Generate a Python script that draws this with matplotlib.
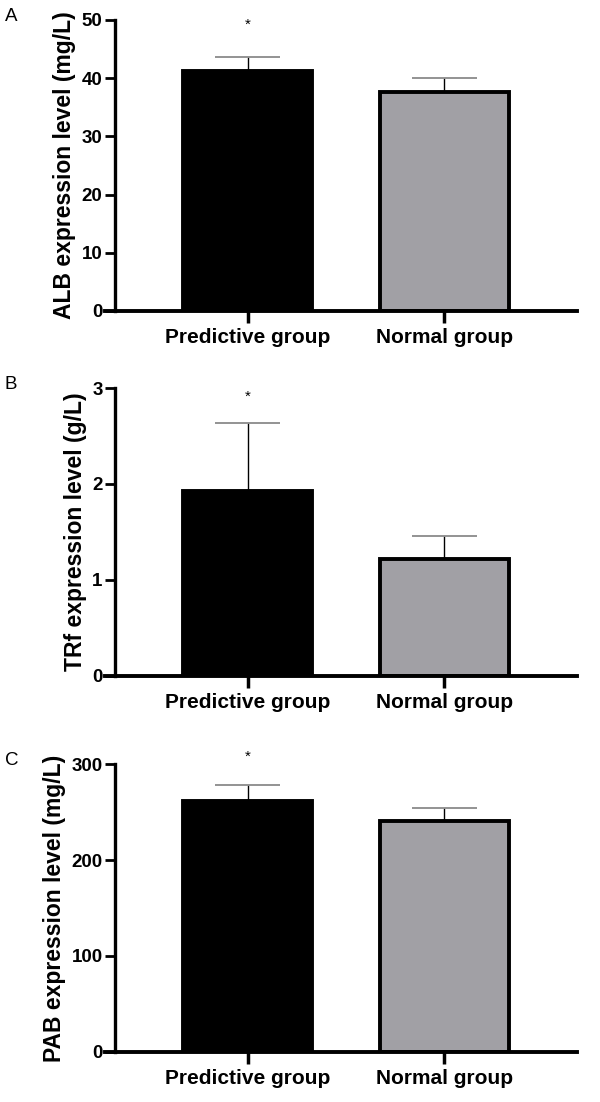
"""
Serum ALB / TRf / PAB levels, predictive vs normal group (three stacked bar panels).
"""

import matplotlib
matplotlib.use("Agg")
import matplotlib.pyplot as plt

plt.rcParams['font.family'] = ['Liberation Sans', 'Noto Sans CJK SC', 'DejaVu Sans']

groups = ['Predictive group', 'Normal group']

alb_mean = [41.2, 37.6]
alb_err = [2.5, 2.4]
trf_mean = [1.93, 1.215]
trf_err = [0.71, 0.245]
pab_mean = [261, 240.8]
pab_err = [16.7, 13.2]

panel_letters = ['A', 'B', 'C']
ylabels = ['ALB expression level (mg/L)', 'TRf expression level (g/L)', 'PAB expression level (mg/L)']
yticks = [[0, 10, 20, 30, 40, 50], [0, 1, 2, 3], [0, 100, 200, 300]]
star_y = [49.1, 2.91, 308]

bar_colors = ['black', '#a1a0a5']
cap_color = '#8a8a8a'

# axes boxes in figure fractions (left, bottom, width, height)
boxes = [
    [0.175, 0.7178, 0.787, 0.2641],
    [0.175, 0.3866, 0.787, 0.2613],
    [0.175, 0.0454, 0.787, 0.2613],
]


def draw_panel(fig, box, means, errs, letter, ylabel, ticks, sy):
    ax = fig.add_axes(box)

    # spine position first: moving a spine resets its ticks
    ax.spines['top'].set_visible(False)
    ax.spines['right'].set_visible(False)
    ax.spines['left'].set_position(('data', -0.674))
    ax.spines['left'].set_linewidth(2.4)
    ax.spines['bottom'].set_linewidth(2.8)

    x = [0, 1]
    ax.bar(x, means, width=0.657, color=bar_colors, edgecolor='black',
           linewidth=2.8, zorder=2)

    # upper error bars only, GraphPad style
    for xi, m, e in zip(x, means, errs):
        ax.vlines(xi, m, m + e, color='black', linewidth=1.0, zorder=3)
        ax.hlines(m + e, xi - 0.165, xi + 0.165, color=cap_color, linewidth=1.3, zorder=3)

    ax.text(0, sy, '*', ha='center', va='center', fontsize=11, clip_on=False)

    ax.set_xlim(-0.725, 1.677)
    ax.set_ylim(0, ticks[-1])
    ax.set_yticks(ticks, labels=[str(t) for t in ticks], fontsize=13.5, fontweight='bold')
    ax.set_xticks(x, labels=groups, fontsize=15, fontweight='bold')
    ax.set_ylabel(ylabel, fontsize=16.5, fontweight='bold', labelpad=4)

    ax.tick_params(axis='y', length=7, width=2.0, pad=2)
    ax.tick_params(axis='x', length=8.5, width=2.5, pad=4)

    fig.text(0.008, box[1] + box[3] + 0.003, letter, fontsize=13.5, ha='left', va='center')
    return ax


def main():
    fig = plt.figure(figsize=(6, 11.02), dpi=100)
    data = [(alb_mean, alb_err), (trf_mean, trf_err), (pab_mean, pab_err)]
    for i, (means, errs) in enumerate(data):
        draw_panel(fig, boxes[i], means, errs, panel_letters[i], ylabels[i],
                   yticks[i], star_y[i])
    fig.savefig('out.png', dpi=100)
    plt.close(fig)


if __name__ == "__main__":
    main()
